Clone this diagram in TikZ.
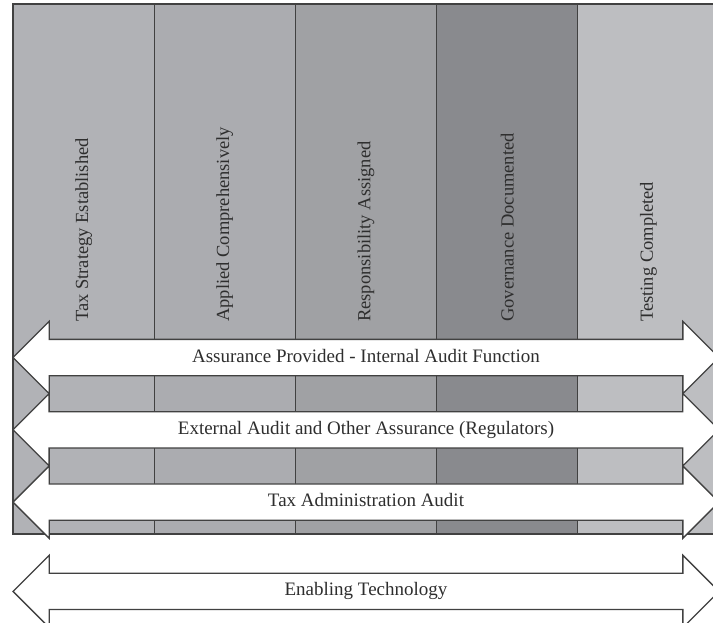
\documentclass[tikz,border=0pt]{standalone}
\usepackage{fontspec}
\setmainfont{Liberation Serif}
\usepackage{xcolor}
\usetikzlibrary{shapes.arrows,positioning}

\definecolor{edge}{HTML}{414141}
\definecolor{ink}{HTML}{2E2E2E}
\definecolor{stageA}{HTML}{B1B2B6}
\definecolor{stageB}{HTML}{ABACB0}
\definecolor{stageC}{HTML}{A0A1A4}
\definecolor{stageD}{HTML}{898A8E}
\definecolor{stageE}{HTML}{BDBEC1}

\begin{document}
\begin{tikzpicture}[
    x=1pt, y=-1pt,
    stage/.style={rectangle, draw=edge, line width=1.3pt, minimum width=141.2pt, minimum height=530pt, inner sep=0pt, outer sep=0pt},
    stagelabel/.style={rotate=90, anchor=west, inner sep=0pt, text=ink, font=\fontsize{18.5}{22}\selectfont},
    band/.style={double arrow, draw=edge, fill=white, line width=1.3pt, double arrow tip angle=90, double arrow head extend=18pt, minimum height=706pt, minimum width=71pt, inner sep=0pt, outer sep=0pt, text height=22pt, text depth=13pt, text=ink, font=\fontsize{19}{22}\selectfont}
]
\useasboundingbox (0,0) rectangle (713,623);

% Stages
\node[stage, fill=stageA] (tax) at (83.6,269) {};
\node[stage, fill=stageB, right=0pt of tax] (applied) {};
\node[stage, fill=stageC, right=0pt of applied] (resp) {};
\node[stage, fill=stageD, right=0pt of resp] (gov) {};
\node[stage, fill=stageE, right=0pt of gov] (testing) {};

% Stage labels, read bottom to top
\coordinate (base) at (0,322);
\node[stagelabel] (taxlbl) at (tax |- base) {Tax Strategy Established};
\node[stagelabel] (appliedlbl) at (applied |- base) {Applied Comprehensively};
\node[stagelabel] (resplbl) at (resp |- base) {Responsibility Assigned};
\node[stagelabel] (govlbl) at (gov |- base) {Governance Documented};
\node[stagelabel] (testinglbl) at (testing |- base) {Testing Completed};

% Assurance bands across the stages (north/south sit on the shaft)
\node[band] (internal) at (366,357.5) {Assurance Provided - Internal Audit Function};
\node[band, below=36pt of internal] (external) {External Audit and Other Assurance (Regulators)};
\node[band, below=36pt of external] (taxadmin) {Tax Administration Audit};

% Technology underneath
\node[band, below=53pt of taxadmin] (tech) {Enabling Technology};

\end{tikzpicture}
\end{document}
